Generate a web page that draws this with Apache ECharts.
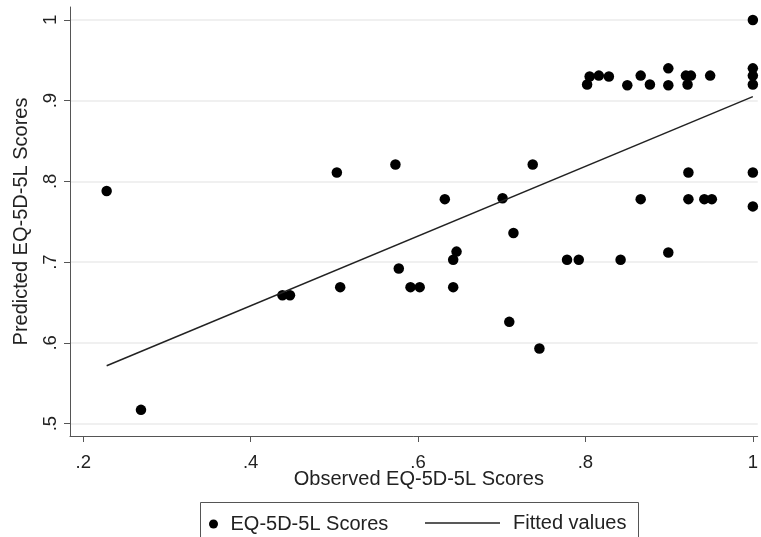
<!DOCTYPE html>
<html>
<head>
<meta charset="utf-8">
<script src="https://cdn.jsdelivr.net/npm/echarts@6/dist/echarts.min.js"></script>
<style>html,body{margin:0;padding:0;background:#fff}#c{width:761px;height:537px}</style>
</head>
<body>
<div id="c"></div>
<script>
const obsX = [0.228,0.269,0.438,0.447,0.503,0.507,0.573,0.577,0.591,0.602,0.632,0.642,0.642,0.646,0.701,0.709,0.714,0.737,0.745,0.778,0.792,0.802,0.805,0.816,0.828,0.842,0.850,0.866,0.866,0.877,0.899,0.899,0.899,0.920,0.922,0.926,0.923,0.923,0.942,0.949,0.951,1.0,1.0,1.0,1.0,1.0,1.0];
const predY = [0.788,0.517,0.659,0.659,0.811,0.669,0.821,0.692,0.669,0.669,0.778,0.669,0.703,0.713,0.779,0.626,0.736,0.821,0.593,0.703,0.703,0.920,0.930,0.931,0.930,0.703,0.919,0.931,0.778,0.920,0.940,0.919,0.712,0.931,0.920,0.931,0.811,0.778,0.778,0.931,0.778,1.0,0.940,0.931,0.920,0.811,0.769];
const fitX = [0.228, 1.0];
const fitY = [0.5716, 0.905];
const xTicks = [0.2, 0.4, 0.6, 0.8, 1];
const yTicks = [0.5, 0.6, 0.7, 0.8, 0.9, 1];
const xTitle = 'Observed EQ-5D-5L Scores';
const yTitle = 'Predicted EQ-5D-5L Scores';
const seriesNames = ['EQ-5D-5L Scores', 'Fitted values'];

const fmt = v => { const r = Math.round(v * 10) / 10; return r === 1 ? '1' : String(r).replace(/^0/, ''); };
const font = 'Liberation Sans, Arial, sans-serif';
const textColor = '#222';
const axisColor = '#555';

const chart = echarts.init(document.getElementById('c'), null, {renderer: 'canvas'});
chart.setOption({
  animation: false,
  backgroundColor: '#fff',
  grid: {left: 70, right: 0, top: 7, bottom: 101, containLabel: false},
  xAxis: {
    type: 'value', min: 0.1842, max: 1.0058,
    name: xTitle, nameLocation: 'middle', nameGap: 33, nameMoveOverlap: false,
    nameTextStyle: {fontFamily: font, fontSize: 20, color: textColor, padding: [0, 0, 0, 10]},
    axisLine: {show: true, onZero: false, lineStyle: {color: axisColor, width: 1}},
    axisTick: {show: true, length: 6, customValues: xTicks, lineStyle: {color: axisColor}},
    axisLabel: {customValues: xTicks, formatter: fmt, fontFamily: font, fontSize: 18.5, color: textColor, margin: 17},
    splitLine: {show: false}
  },
  yAxis: {
    type: 'value', min: 0.4846, max: 1.016,
    name: yTitle, nameLocation: 'middle', nameGap: 39, nameMoveOverlap: false,
    nameTextStyle: {fontFamily: font, fontSize: 20, color: textColor},
    axisLine: {show: true, onZero: false, lineStyle: {color: axisColor, width: 1}},
    axisTick: {show: true, length: 6, customValues: yTicks, lineStyle: {color: axisColor}},
    axisLabel: {customValues: yTicks, formatter: fmt, rotate: 90, fontFamily: font, fontSize: 18.5, color: textColor, margin: 10},
    splitLine: {show: true, lineStyle: {color: '#ebebeb', width: 1.5}}
  },
  legend: [
    {data: [seriesNames[0]], left: 209, top: 514, itemWidth: 24, itemHeight: 9, padding: 0,
     textStyle: {fontFamily: font, fontSize: 20, color: textColor}},
    {data: [{name: seriesNames[1], icon: 'rect'}], left: 425, top: 513, itemWidth: 75, itemHeight: 1.5, padding: 0,
     textStyle: {fontFamily: font, fontSize: 20, color: textColor, padding: [0, 0, 0, 8]}}
  ],
  graphic: [{type: 'rect', shape: {x: 200.5, y: 502.5, width: 438, height: 60}, style: {fill: 'none', stroke: '#555', lineWidth: 1}, silent: true}],
  series: [
    {name: seriesNames[0], type: 'scatter', symbol: 'circle', symbolSize: 10.5, clip: false,
     itemStyle: {color: '#000', opacity: 1}, data: obsX.map((x, i) => [x, predY[i]])},
    {name: seriesNames[1], type: 'line', symbol: 'none', showSymbol: false,
     lineStyle: {color: '#222', width: 1.5}, itemStyle: {color: '#222'},
     data: fitX.map((x, i) => [x, fitY[i]])}
  ]
});
</script>
</body>
</html>
